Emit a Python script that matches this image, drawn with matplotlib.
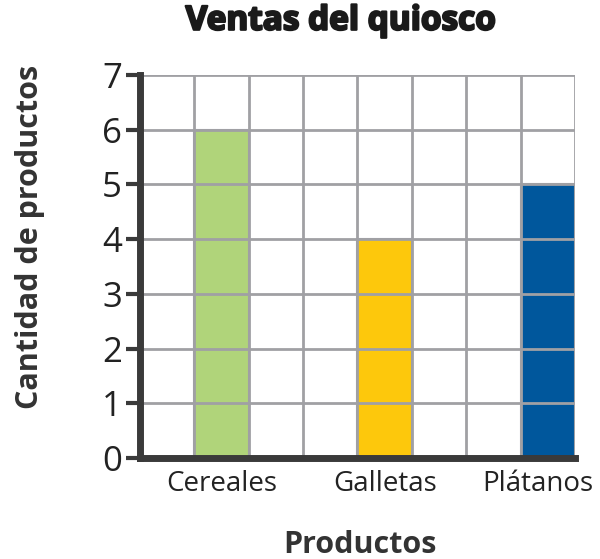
import numpy as np
import matplotlib.pyplot as plt
import matplotlib.transforms as mtransforms
import matplotlib.patheffects as pe

plt.rcParams['font.family'] = ['Open Sans', 'DejaVu Sans']

# Datos
productos = ['Cereales', 'Galletas', 'Plátanos']
ventas    = [6, 4, 5]
columnas  = [1.5, 4.5, 7.5]   # centro de cada barra en la cuadrícula
colores   = ['#b0d47a', '#fdc80c', '#00579c']

fig = plt.figure(figsize=(6, 5.59), dpi=100)
ax = fig.add_axes([0.2333, 0.1807, 0.725, 0.685])

ax.bar(columnas, ventas, width=1.0, color=colores, edgecolor='#a0a0a4',
       linewidth=1.5, zorder=2)

ax.set_xlim(0, 8)
ax.set_ylim(0, 7)
ax.set_xticks(np.arange(1, 9), minor=True)
ax.set_xticks(columnas)
ax.set_xticklabels(productos, fontsize=20, color='#222222')
ax.set_yticks(np.arange(0, 8))
ax.tick_params(axis='y', labelsize=25, length=10, width=3, color='#3a3a3a',
               labelcolor='#222222', pad=3)
ax.tick_params(axis='x', which='both', length=0, pad=9)

# la última etiqueta queda un poco a la izquierda
lbl = ax.get_xticklabels()[-1]
lbl.set_transform(lbl.get_transform() +
                  mtransforms.ScaledTranslation(-0.1, 0, fig.dpi_scale_trans))

ax.grid(True, which='minor', axis='x', color='#a0a0a4', linewidth=2, zorder=3)
ax.grid(True, which='major', axis='y', color='#a0a0a4', linewidth=2, zorder=3)
ax.set_axisbelow(False)

for s in ['top', 'right']:
    ax.spines[s].set_visible(False)
for s in ['left', 'bottom']:
    ax.spines[s].set_linewidth(5)
    ax.spines[s].set_color('#3a3a3a')
    ax.spines[s].set_zorder(4)

fig.text(0.568, 0.962, 'Ventas del quiosco', fontsize=24, fontweight='bold',
         color='#1a1a1a', ha='center', va='center',
         path_effects=[pe.withStroke(linewidth=1.6, foreground='#1a1a1a')])
fig.text(0.60, 0.025, 'Productos', fontsize=22, fontweight='bold',
         color='#333333', ha='center', va='center')
fig.text(0.05, 0.576, 'Cantidad de productos', fontsize=22,
         fontweight='bold', color='#333333', rotation=90,
         ha='center', va='center')

plt.savefig('out.png', dpi=100)
